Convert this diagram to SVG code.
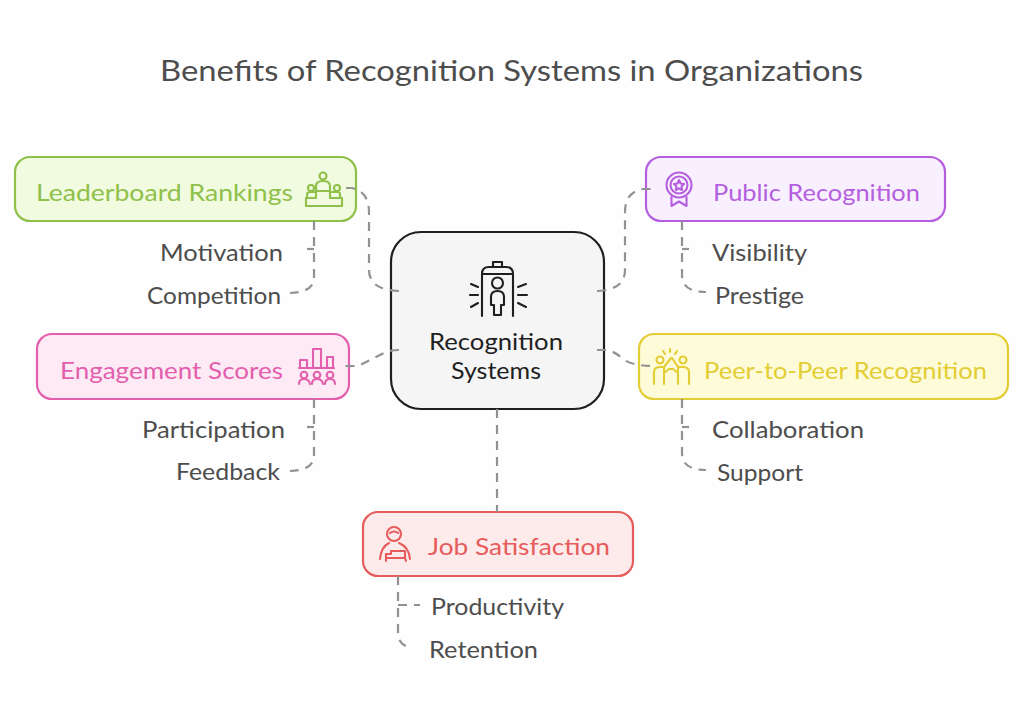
<svg xmlns="http://www.w3.org/2000/svg" width="1024" height="719" viewBox="0 0 1024 719">
<style>
text{font-family:"Lato","Noto Sans",sans-serif;font-size:24px;fill:#4d4d4d;letter-spacing:0}
.box{stroke-width:2.2}
.con{fill:none;stroke:#929292;stroke-width:2.2;stroke-dasharray:9 7}
.ic{fill:none;stroke-width:2.1;stroke-linecap:round;stroke-linejoin:round}
.g{stroke:#8fc04a}
.p{stroke:#b55fe0}
.k{stroke:#e35fae}
.y{stroke:#e3cd35}
.r{stroke:#e65c5c}
</style>
<rect width="1024" height="719" fill="#fefefe"/>
<text x="160" y="81" style="font-size:29px" textLength="703" lengthAdjust="spacingAndGlyphs">Benefits of Recognition Systems in Organizations</text>
<g id="center">
<rect class="box" x="391" y="232" width="213" height="177" rx="30" fill="#f5f5f5" stroke="#1f1f1f"/>
<g class="ic" stroke="#1f1f1f">
<path d="M482 316V274Q482 267 489 267H506Q513 267 513 274V316M482 274H513M493 267V262H502V267"/>
<circle cx="497.500" cy="283" r="5.500"/>
<path d="M491 305V297Q491 291 497.500 291Q504 291 504 297V305H501V315H494V305Z"/>
<path d="M471 284L478 287M470 295H478M471 307L478 303M526 284L518 287M527 295H518M526 307L518 303"/>
</g>
<text x="429" y="350" style="fill:#1f1f1f" textLength="134" lengthAdjust="spacingAndGlyphs">Recognition</text>
<text x="451" y="379" style="fill:#1f1f1f" textLength="90" lengthAdjust="spacingAndGlyphs">Systems</text>
</g>
<g id="leaderboard">
<rect class="box g" x="15" y="157" width="341" height="64" rx="15" fill="#f1fbdf"/>
<g class="ic g">
<circle cx="323" cy="176" r="3.500"/>
<path d="M316 191V186Q316 181 323 181Q330 181 330 186V191"/>
<circle cx="311" cy="188" r="3"/><circle cx="337" cy="188" r="3"/>
<path d="M307 197V194Q307 192 311 192H316M340 197V194Q340 192 337 192H330"/>
<path d="M316 191H330V198H342V206H306V198H316Z"/>
</g>
<text x="36" y="201" style="fill:#8fc04a" textLength="257" lengthAdjust="spacingAndGlyphs">Leaderboard Rankings</text>
<text x="160" y="261" textLength="123" lengthAdjust="spacingAndGlyphs">Motivation</text>
<text x="147" y="304" textLength="134" lengthAdjust="spacingAndGlyphs">Competition</text>
</g>
<g id="public">
<rect class="box p" x="646" y="157" width="299" height="64" rx="15" fill="#f8f0fe"/>
<g class="ic p">
<circle cx="679" cy="185" r="12.500"/><circle cx="679" cy="185" r="8.500"/>
<path d="M679 180L680.500 183.500L684 184L681.500 186.500L682 190L679 188.300L676 190L676.500 186.500L674 184L677.500 183.500Z"/>
<path d="M671.500 197V206L679 201.500L686.500 206V197"/>
</g>
<text x="713" y="201" style="fill:#b55fe0" textLength="207" lengthAdjust="spacingAndGlyphs">Public Recognition</text>
<text x="712" y="261" textLength="95" lengthAdjust="spacingAndGlyphs">Visibility</text>
<text x="715" y="304" textLength="89" lengthAdjust="spacingAndGlyphs">Prestige</text>
</g>
<g id="engagement">
<rect class="box k" x="37" y="334" width="312" height="65" rx="15" fill="#fdeaf5"/>
<g class="ic k">
<path d="M300 368V360H307V368M313 368V349H321V368M327 368V357H333V368M299 368H334"/>
<circle cx="304" cy="375" r="3.300"/><circle cx="317" cy="375" r="3.300"/><circle cx="330" cy="375" r="3.300"/>
<path d="M299 384Q299 379 304 379Q309 379 310 384M312 384Q312 379 317 379Q322 379 323 384M325 384Q325 379 330 379Q335 379 335 384"/>
</g>
<text x="60" y="379" style="fill:#e35fae" textLength="223" lengthAdjust="spacingAndGlyphs">Engagement Scores</text>
<text x="142" y="438" textLength="143" lengthAdjust="spacingAndGlyphs">Participation</text>
<text x="176" y="480" textLength="104" lengthAdjust="spacingAndGlyphs">Feedback</text>
</g>
<g id="peer">
<rect class="box y" x="639" y="334" width="369" height="65" rx="15" fill="#fefbd8"/>
<g class="ic y">
<circle cx="660" cy="360" r="3.500"/><circle cx="683" cy="360" r="3.500"/>
<path d="M654 384V372Q654 367 660 367H664L671 358M689 384V372Q689 367 683 367H678L672 358"/>
<path d="M664 384V368M678 384V368M664 373L669 369H673L678 373"/>
<path d="M670 349V352M663 351L665 354M677 351L675 354"/>
</g>
<text x="704" y="379" style="fill:#e3cd35" textLength="283" lengthAdjust="spacingAndGlyphs">Peer-to-Peer Recognition</text>
<text x="712" y="438" textLength="152" lengthAdjust="spacingAndGlyphs">Collaboration</text>
<text x="717" y="481" textLength="86" lengthAdjust="spacingAndGlyphs">Support</text>
</g>
<g id="job">
<rect class="box r" x="363" y="512" width="270" height="64" rx="15" fill="#fdeaea"/>
<g class="ic r">
<circle cx="394" cy="534" r="7"/>
<path d="M390 533Q394 530 398 533"/>
<path d="M380 559Q381 547 389 543M399 543Q409 547 410 559"/>
<path d="M386 561V554H391V551H405V558H386M405 558L406 561"/>
</g>
<text x="428" y="555" style="fill:#e65c5c" textLength="182" lengthAdjust="spacingAndGlyphs">Job Satisfaction</text>
<text x="431" y="615" textLength="133" lengthAdjust="spacingAndGlyphs">Productivity</text>
<text x="429" y="658" textLength="109" lengthAdjust="spacingAndGlyphs">Retention</text>
</g>
<g id="connectors">
<path class="con" d="M399 291Q369 290 369 270V212Q369 192 352 188H344"/>
<path class="con" d="M597 291Q625 290 625 270V212Q625 192 643 189H651"/>
<path class="con" d="M399 350Q390 350 384 353L358 366H341"/>
<path class="con" d="M597 350H606Q614 351 622 358Q630 366 655 366"/>
<path class="con" d="M497 409V512"/>
<path class="con" d="M314 221V278Q314 292 290 293"/>
<path class="con" d="M307 249H314"/>
<path class="con" d="M682 221V275Q682 292 706 292"/>
<path class="con" d="M682 249H689"/>
<path class="con" d="M314 399V456Q314 470 290 471"/>
<path class="con" d="M307 427H314"/>
<path class="con" d="M682 399V453Q682 470 706 470"/>
<path class="con" d="M682 427H689"/>
<path class="con" d="M398 576V632Q398 646 411 647"/>
<path class="con" d="M398 605H420"/>
</g>
</svg>
